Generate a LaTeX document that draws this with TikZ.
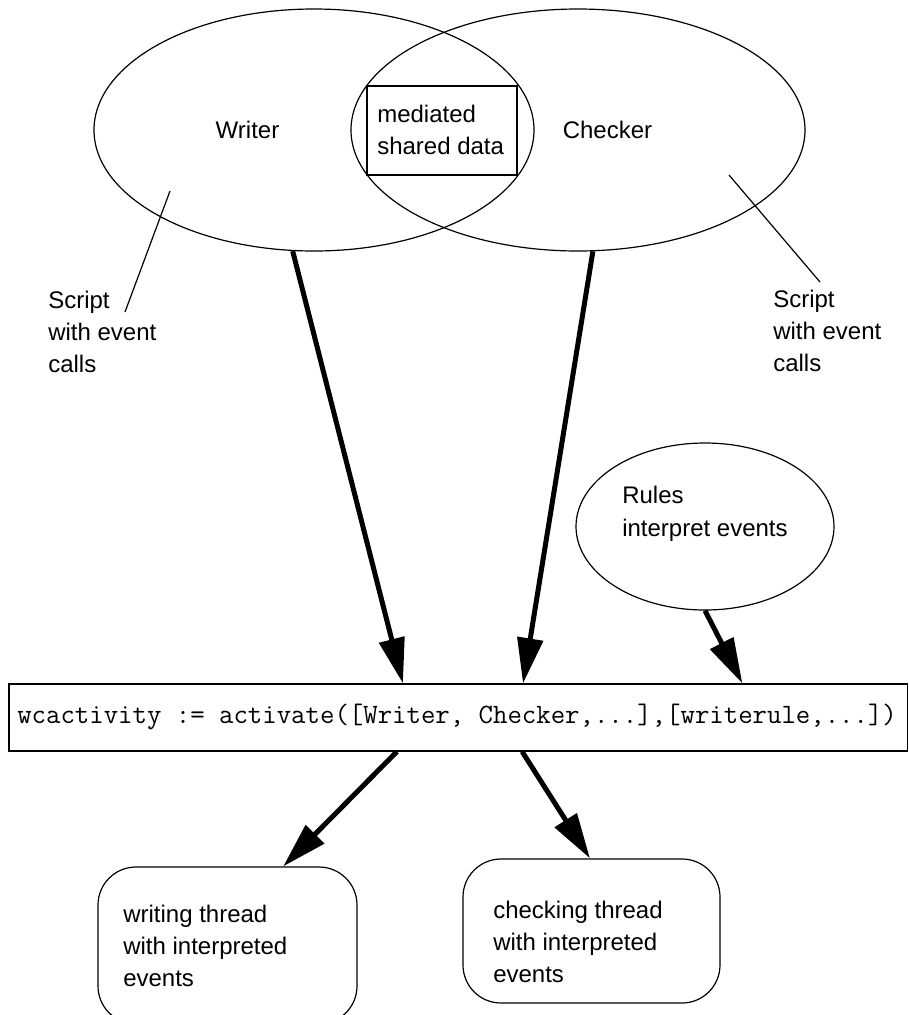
\documentclass[tikz,border=0pt]{standalone}
\usepackage{fontspec}
\setmainfont{Liberation Sans}
\usetikzlibrary{shapes.geometric,arrows.meta,calc}
\begin{document}
\begin{tikzpicture}[x=0.75pt,y=-0.75pt,
  thinline/.style={line width=0.9pt},
  oval/.style={draw, thinline, ellipse, inner sep=0pt},
  lbl/.style={font=\fontsize{18}{24}\selectfont, inner sep=0pt, align=left, anchor=north west},
  word/.style={font=\fontsize{18}{24}\selectfont, inner sep=0pt},
  thread/.style={draw, thinline, rounded corners=28.5pt, inner sep=0pt},
  bigarrow/.style={line width=3.75pt, -{Triangle[length=34pt,width=19pt]}}]
\useasboundingbox (0,0) rectangle (909,1015);

% top ellipses
\node[oval, minimum width=330pt, minimum height=181.5pt] (writer) at (314,130) {};
\node[oval, minimum width=340.5pt, minimum height=181.5pt] (checker) at (578,130) {};
\node[draw, thinline, inner sep=0pt, minimum width=112.5pt, minimum height=66.75pt] (shared) at (442,130.5) {};
\node[lbl] (sharedtxt) at (377,104.8) {mediated\\shared data};
\node[word] (writerlbl) at (247.5,129.5) {Writer};
\node[word] (checkerlbl) at (607.5,129.7) {Checker};

% script annotations
\coordinate (lsA) at (170,191);
\coordinate (lsB) at (125,312);
\draw[thinline] (lsA) -- (lsB);
\node[lbl] (lscript) at (48,290.8) {Script\\with event\\calls};
\coordinate (rsA) at (729,175);
\coordinate (rsB) at (820,282);
\draw[thinline] (rsA) -- (rsB);
\node[lbl] (rscript) at (773,289.8) {Script\\with event\\calls};

% rules
\node[oval, minimum width=193.5pt, minimum height=125.25pt] (rules) at (705,526.5) {};
\node[lbl, font=\fontsize{18}{25}\selectfont] (rulestxt) at (622,485.8) {Rules\\interpret events};

% activation box
\node[draw, thinline, inner sep=0pt, minimum width=673.875pt, minimum height=50.25pt] (act) at (458.25,717.5) {};
\node[inner sep=0pt, anchor=base west, font=\ttfamily\fontsize{21}{24}\selectfont] (acttxt) at (17,723.5) {wcactivity := activate([Writer, Checker,...],[writerule,...])};

% threads
\node[thread, minimum width=194.25pt, minimum height=117.75pt] (wthread) at (227.5,945.5) {};
\node[lbl] (wthreadtxt) at (123,904.8) {writing thread\\with interpreted\\events};
\node[thread, minimum width=192.75pt, minimum height=108pt] (cthread) at (591.5,931) {};
\node[lbl] (cthreadtxt) at (493,900.8) {checking thread\\with interpreted\\events};

% arrows
\draw[bigarrow] (writer.260.5) -- ($(act.north west)!0.4385!(act.north east)$);
\draw[bigarrow] (checker.277.1) -- ($(act.north west)!0.572!(act.north east)$);
\draw[bigarrow] (rules.south) -- ($(act.north west)!0.8158!(act.north east)$);
\draw[bigarrow] ($(act.south west)!0.4318!(act.south east)$) -- ($(wthread.north west)!0.714!(wthread.north east)$);
\draw[bigarrow] ($(act.south west)!0.571!(act.south east)$) -- ($(cthread.north west)!0.494!(cthread.north east)$);
\end{tikzpicture}
\end{document}
